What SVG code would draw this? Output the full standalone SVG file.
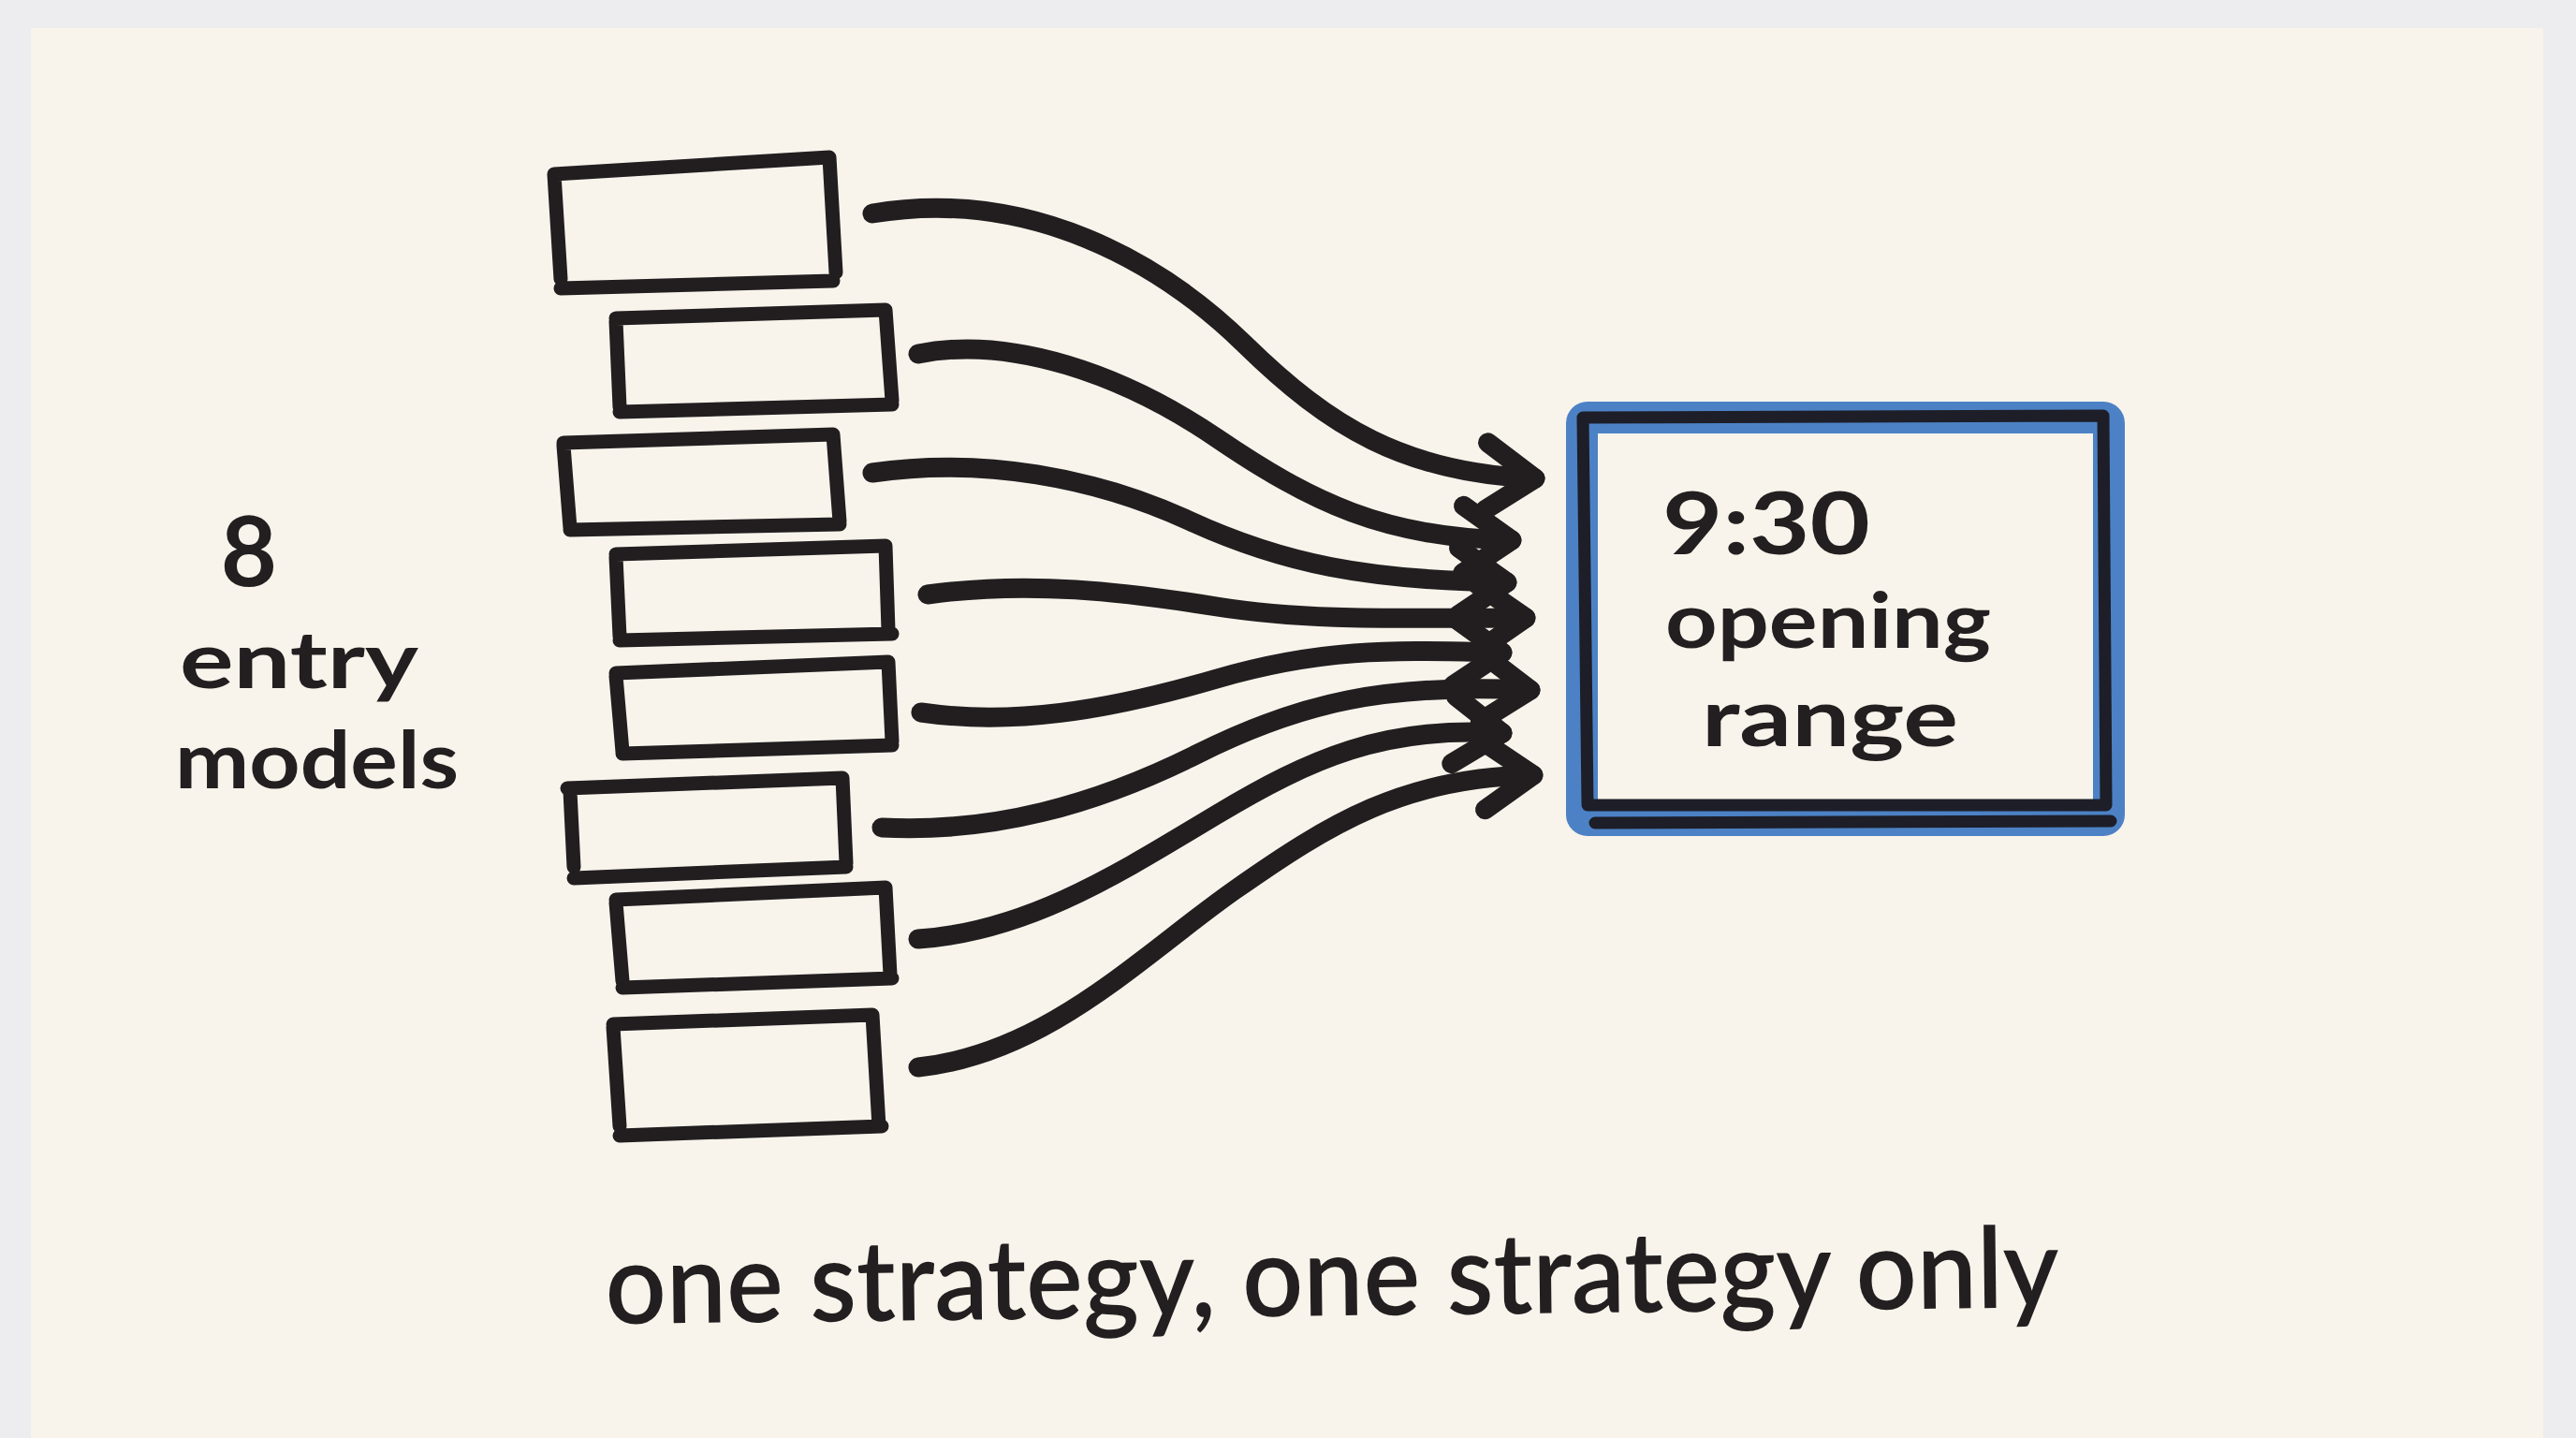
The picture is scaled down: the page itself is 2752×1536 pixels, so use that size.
<svg xmlns="http://www.w3.org/2000/svg" width="2752" height="1536" viewBox="0 0 2752 1536">
<style>
  .ink { fill: none; stroke: #221e20; stroke-linecap: round; stroke-linejoin: round; }
  .box { stroke-width: 15; }
  .arrow { stroke-width: 21; }
  .txt { font-family: Lato, "Open Sans", "Noto Sans", sans-serif; fill: #231f20; font-weight: 600; }
  .lbl { font-weight: 700; }
</style>
<defs>
  <marker id="head" markerUnits="userSpaceOnUse" markerWidth="140" markerHeight="140" refX="0" refY="0" viewBox="-70 -70 140 140" orient="auto" overflow="visible">
    <path d="M-52,-36 L0,0 L-52,36" fill="none" stroke="#221e20" stroke-width="21" stroke-linecap="round" stroke-linejoin="round"/>
  </marker>
</defs>
<rect x="0" y="0" width="2752" height="1536" fill="#edecee"/>
<rect x="33" y="30" width="2684" height="1520" fill="#f8f4eb"/>

<g id="entry-boxes">
  <g id="box1"><path class="ink box" d="M592,186 L886,168 L893,291 M592,186 L599,298 M599,308 L890,300"/></g>
  <g id="box2"><path class="ink box" d="M658,340 L946,331 L953,428 M658,343 L662,435 M662,440 L953,432"/></g>
  <g id="box3"><path class="ink box" d="M602,473 L890,464 L897,557 M602,476 L609,564 M609,566 L897,560"/></g>
  <g id="box4"><path class="ink box" d="M658,592 L946,583 L949,673 M658,595 L662,680 M662,684 L953,677"/></g>
  <g id="box5"><path class="ink box" d="M658,719 L949,707 L953,792 M658,722 L665,803 M665,805 L953,796"/></g>
  <g id="box6"><path class="ink box" d="M606,842 L900,831 L904,922 M609,845 L613,926 M613,938 L904,926"/></g>
  <g id="box7"><path class="ink box" d="M658,961 L946,948 L951,1041 M658,964 L665,1048 M665,1055 L953,1045"/></g>
  <g id="box8"><path class="ink box" d="M655,1094 L932,1084 L939,1203 M655,1097 L662,1203 M662,1213 L942,1203"/></g>
</g>

<g id="label-left">
  <text class="txt lbl" x="266" y="626" font-size="104" text-anchor="middle">8</text>
  <text class="txt lbl" x="192" y="735" font-size="84" textLength="255" lengthAdjust="spacingAndGlyphs">entry</text>
  <text class="txt lbl" x="187" y="842" font-size="84" textLength="303" lengthAdjust="spacingAndGlyphs">models</text>
</g>

<g id="connectors">
  <path class="ink arrow" marker-end="url(#head)" d="M932,228 C1100,200 1240,280 1330,368 C1420,456 1500,505 1640,511"/>
  <path class="ink arrow" marker-end="url(#head)" d="M981,378 C1080,358 1200,400 1300,468 C1400,536 1480,575 1615,577"/>
  <path class="ink arrow" marker-end="url(#head)" d="M932,505 C1050,488 1170,510 1270,556 C1370,602 1460,620 1610,622"/>
  <path class="ink arrow" marker-end="url(#head)" d="M991,635 C1100,620 1200,632 1300,648 C1400,664 1500,660 1630,660"/>
  <path class="ink arrow" marker-end="url(#head)" d="M984,761 C1080,775 1180,760 1300,725 C1420,690 1500,695 1605,697"/>
  <path class="ink arrow" marker-end="url(#head)" d="M942,884 C1060,890 1170,860 1280,805 C1390,750 1480,730 1635,737"/>
  <path class="ink arrow" marker-end="url(#head)" d="M981,1003 C1100,995 1200,930 1300,870 C1400,810 1480,775 1605,783"/>
  <path class="ink arrow" marker-end="url(#head)" d="M981,1140 C1120,1125 1220,1020 1320,950 C1420,880 1500,830 1638,828"/>
</g>

<g id="opening-range">
  <rect x="1690" y="446" width="563" height="430" fill="none" stroke="#4c82c5" stroke-width="34" stroke-linejoin="round" rx="6"/>
  <path d="M1691,446 L2247,444 L2250,860 M1691,446 L1696,858 M1696,860 L2250,860 M1704,879 L2255,877" fill="none" stroke="#1d1e28" stroke-width="13" stroke-linecap="round" stroke-linejoin="round"/>
  <text class="txt lbl" x="1776" y="592" font-size="92" textLength="222" lengthAdjust="spacingAndGlyphs">9:30</text>
  <text class="txt lbl" x="1779" y="692" font-size="82" textLength="348" lengthAdjust="spacingAndGlyphs">opening</text>
  <text class="txt lbl" x="1818" y="797" font-size="86" textLength="274" lengthAdjust="spacingAndGlyphs">range</text>
</g>

<g id="caption">
  <text class="txt" x="647" y="1414" font-size="120" textLength="1553" lengthAdjust="spacingAndGlyphs" transform="rotate(-0.65 647 1414)">one strategy, one strategy only</text>
</g>
</svg>
